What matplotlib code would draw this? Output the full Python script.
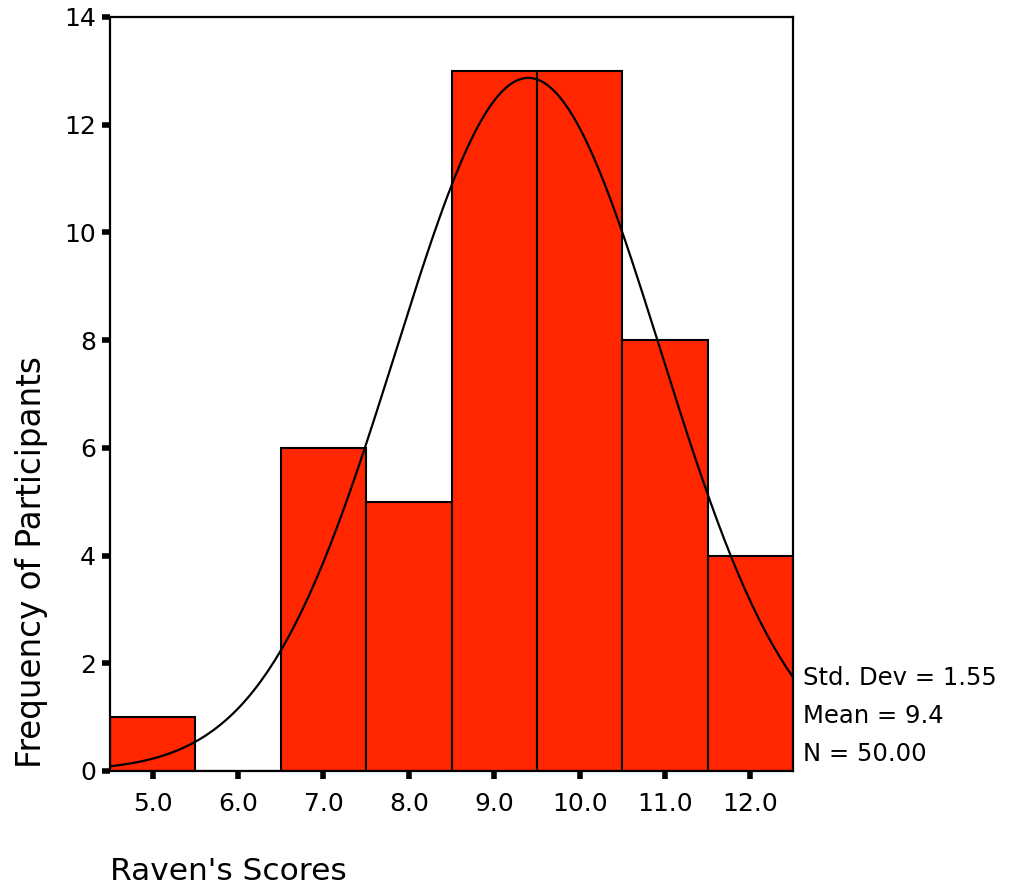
import matplotlib.pyplot as plt
import numpy as np

# histogram of Raven's scores
bin_centers = [5.0, 6.0, 7.0, 8.0, 9.0, 10.0, 11.0, 12.0]
counts = [1, 0, 6, 5, 13, 13, 8, 4]
tick_labels = ['5.0', '6.0', '7.0', '8.0', '9.0', '10.0', '11.0', '12.0']

# summary stats shown beside the plot
std_dev = 1.55
mean = 9.4
n = 50

plt.rcParams['font.family'] = ['DejaVu Sans']

fig = plt.figure(figsize=(10.11, 8.94), dpi=100)
ax = fig.add_axes([0.1088, 0.1376, 0.6756, 0.8434])

ax.bar(bin_centers, counts, width=1.0, color='#FF2600', edgecolor='black',
       linewidth=1.5, zorder=2)

# fitted normal curve (from the mean / sd / N stated on the chart)
xs = np.linspace(4.5, 12.5, 200)
ys = n * 1.0 / (std_dev * np.sqrt(2 * np.pi)) * np.exp(-0.5 * ((xs - mean) / std_dev) ** 2)
ax.plot(xs, ys, color='black', linewidth=1.6, zorder=3)

ax.set_xlim(4.5, 12.5)
ax.set_ylim(0, 14)
ax.set_xticks(bin_centers, tick_labels)
ax.set_yticks(np.arange(0, 15, 2))
ax.tick_params(axis='both', labelsize=18, width=4, length=6, direction='out')
ax.tick_params(axis='x', pad=9)
ax.tick_params(axis='y', pad=4)
for s in ax.spines.values():
    s.set_linewidth(1.6)

fig.text(110 / 1011, 1 - 872 / 894, "Raven's Scores", fontsize=22.5, ha='left', va='center')
fig.text(32 / 1011, 1 - 562 / 894, 'Frequency of Participants', fontsize=23.5,
         rotation=90, ha='center', va='center')

stats = [f'Std. Dev = {std_dev:.2f}', f'Mean = {mean:.1f}', f'N = {n:.2f}']
for i, s in enumerate(stats):
    fig.text(803 / 1011, 1 - (678 + 38 * i) / 894, s, fontsize=17.5, ha='left', va='center')

fig.savefig('out.png', dpi=100)
